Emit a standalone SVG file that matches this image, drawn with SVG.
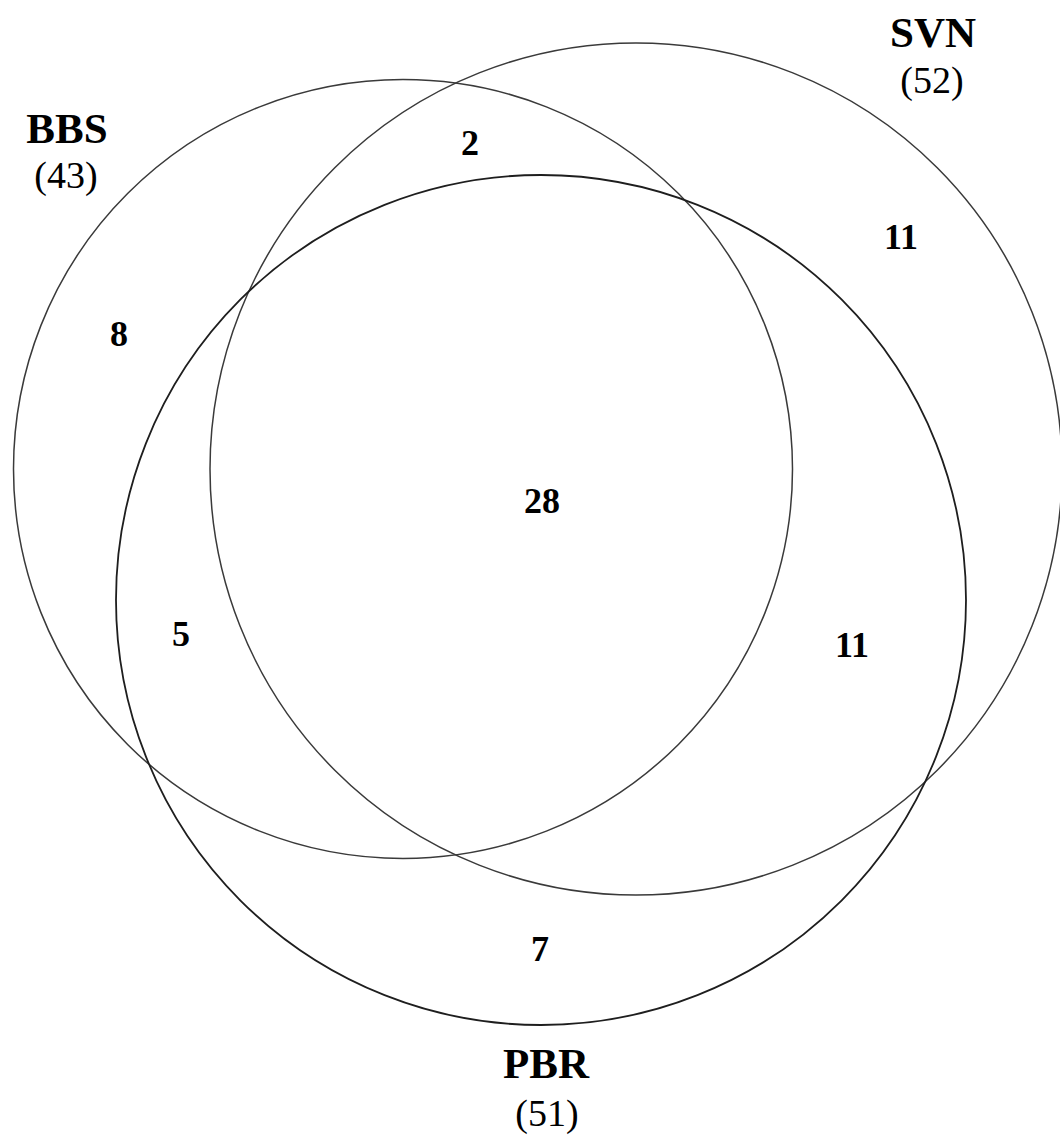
<svg xmlns="http://www.w3.org/2000/svg" width="1060" height="1138" viewBox="0 0 1060 1138">
<style>
.c{fill:none;stroke:#3a3a3a;stroke-width:1.5}
.p{fill:none;stroke:#1e1e1e;stroke-width:1.8}
.t{font-family:"Liberation Serif","Times New Roman",serif;text-anchor:middle;fill:#000}
.b{font-weight:bold;font-size:43px}
.n{font-size:38px}
.v{font-weight:bold;font-size:36px}
</style>
<rect width="1060" height="1138" fill="#fff"/>
<g id="sets">
<circle id="BBS" class="c" cx="403" cy="469" r="389.5"/>
<circle id="SVN" class="c" cx="636" cy="469" r="426"/>
<circle id="PBR" class="p" cx="541" cy="600" r="425"/>
</g>
<g id="labels">
<text class="t b" x="67" y="143">BBS</text>
<text class="t n" x="66" y="188">(43)</text>
<text class="t b" x="933" y="47">SVN</text>
<text class="t n" x="932" y="93">(52)</text>
<text class="t b" x="546" y="1078">PBR</text>
<text class="t n" x="547" y="1126">(51)</text>
</g>
<g id="counts">
<text class="t v" x="470" y="155">2</text>
<text class="t v" x="901" y="249">11</text>
<text class="t v" x="119" y="346">8</text>
<text class="t v" x="542" y="513">28</text>
<text class="t v" x="181" y="646">5</text>
<text class="t v" x="852" y="657">11</text>
<text class="t v" x="540" y="961">7</text>
</g>
</svg>
